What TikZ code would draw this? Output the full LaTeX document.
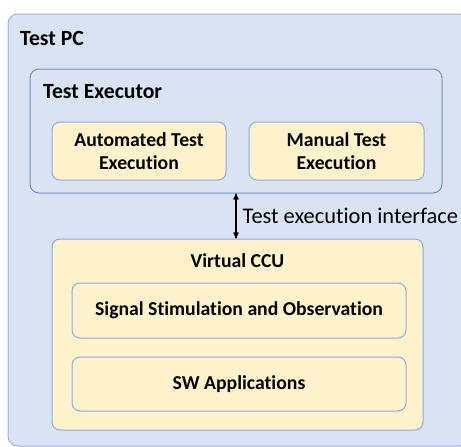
\documentclass[tikz,border=0pt]{standalone}
\usepackage{fontspec}
\setmainfont{Carlito}[Ligatures=CommonOff]
\usetikzlibrary{arrows,positioning}
\definecolor{pcfill}{HTML}{DAE3F3}
\definecolor{pcline}{HTML}{9DB1D9}
\definecolor{exline}{HTML}{7391C7}
\definecolor{ccufill}{HTML}{FFF2CC}
\definecolor{cculine}{HTML}{8FAADC}

\begin{document}
\begin{tikzpicture}[x=1pt,y=-1pt,>=stealth',
        container/.style={draw=pcline,fill=pcfill,line width=1pt,rounded corners=10pt},
        block/.style={draw=cculine,fill=ccufill,line width=1pt,rounded corners=8pt,
          align=center,font=\fontsize{19.7}{23.5}\selectfont\bfseries},
        title/.style={font=\fontsize{21.7}{25}\selectfont\bfseries,inner sep=0pt}]

  \useasboundingbox (0,0) rectangle (461,447);

  \node[container,minimum width=461pt,minimum height=432pt] (pc) at (238.5,230) {};
  \node[title,anchor=west] (pclabel) at (20,38) {Test PC};

  \node[container,draw=exline,rounded corners=9pt,minimum width=412pt,minimum height=124pt] (executor) at (236,131) {};
  \node[title,anchor=west] (exlabel) at (43,92) {Test Executor};

  \node[block,minimum width=174pt,minimum height=58pt] (auto) at (139,151) {Automated Test\\Execution};
  \node[block,minimum width=175pt,minimum height=58pt] (manual) [right=22pt of auto] {Manual Test\\Execution};

  \node[block,minimum width=371pt,minimum height=191pt] (ccu) at (237.5,334.5) {};
  \node[title,font=\fontsize{19.7}{23.5}\selectfont\bfseries] (cculabel) at (237.5,261) {Virtual CCU};

  \node[block,minimum width=334pt,minimum height=55pt] (signal) at (239,310.5) {Signal Stimulation and Observation};
  \node[block,minimum width=334pt,minimum height=54pt] (swapp) at (239,384) {SW Applications};

  \draw[<->,line width=1.2pt] (executor.south) -- (executor.south |- ccu.north)
        node[midway,right,inner sep=6pt,font=\fontsize{22.4}{26}\selectfont] {Test execution interface};

\end{tikzpicture}
\end{document}
